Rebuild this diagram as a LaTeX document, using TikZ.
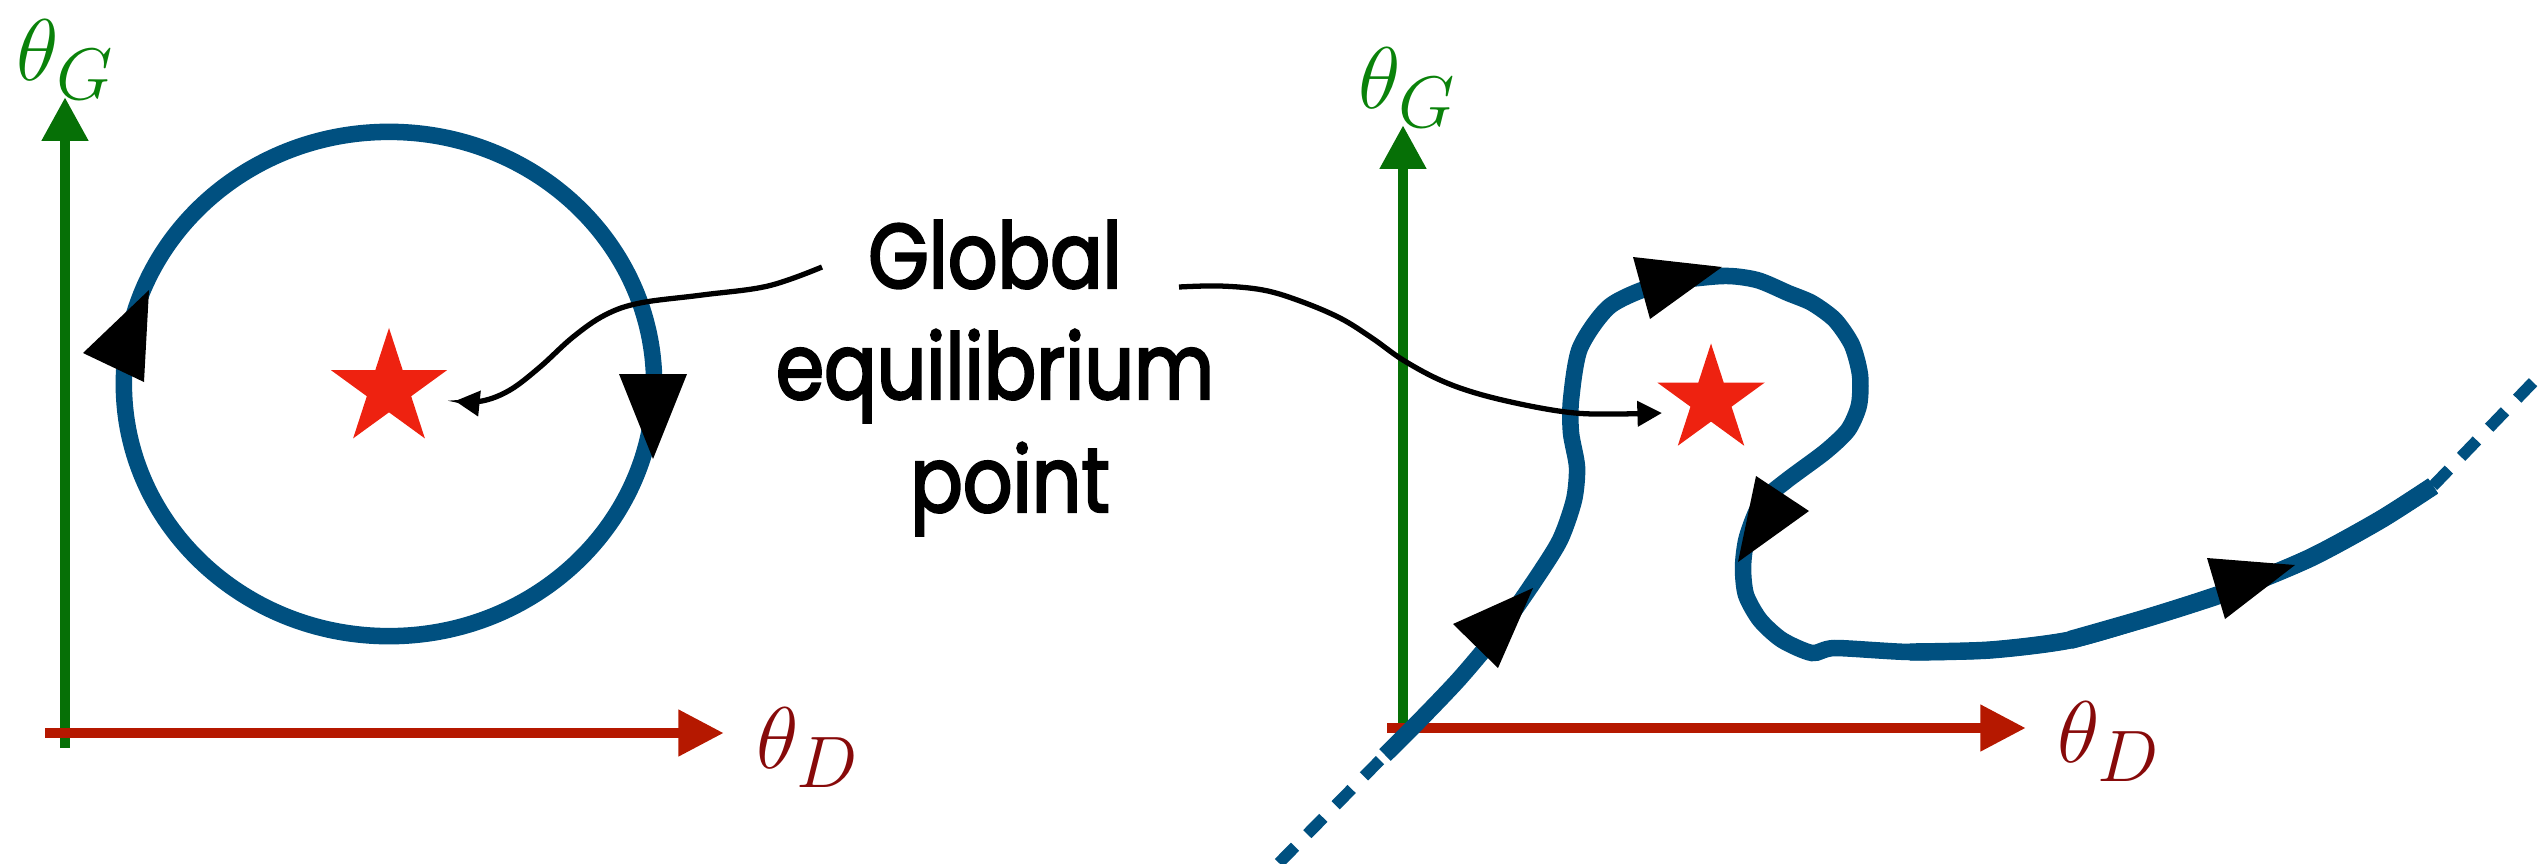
\documentclass[tikz,border=0pt]{standalone}
\usepackage{fontspec}
\usetikzlibrary{arrows.meta,shapes.geometric}
\newfontfamily\glfont{Poppins}[FakeBold=2.5,FakeStretch=0.85]
\definecolor{traj}{RGB}{0,80,128}
\definecolor{axg}{RGB}{6,112,6}
\definecolor{axr}{RGB}{181,24,0}
\definecolor{labg}{RGB}{10,130,10}
\definecolor{labr}{RGB}{135,10,10}
\definecolor{starred}{RGB}{238,34,16}
\begin{document}
\begin{tikzpicture}[x=0.01cm,y=-0.01cm,
  axisg/.style={draw=axg,line width=3.1pt,-{Triangle[length=12.5pt,width=12.5pt]}},
  axisr/.style={draw=axr,line width=3.1pt,-{Triangle[length=13pt,width=12.5pt]}},
  trajline/.style={draw=traj,line width=4.7pt},
  trajdash/.style={draw=traj,line width=3.3pt,dash pattern=on 6.5pt off 5pt},
  headtri/.style={fill=black},
  eqstar/.style={star,star points=5,star point ratio=2.618,inner sep=0pt,fill=starred,draw=none},
  callout/.style={draw=black,line width=1.5pt,-{Triangle[length=7pt,width=7pt]}},
  axlabg/.style={inner sep=0pt,anchor=base west,text=labg,font=\fontsize{27.5pt}{33pt}\selectfont},
  axlabr/.style={inner sep=0pt,anchor=base west,text=labr,font=\fontsize{27.5pt}{33pt}\selectfont},
  gltext/.style={inner sep=0pt,anchor=base,font=\glfont\fontsize{26pt}{31pt}\selectfont}
]
\path[use as bounding box] (0,0) rectangle (2539,863);

% ---------- left panel ----------
\coordinate (lO1) at (65,748);
\coordinate (lY) at (65,97);
\coordinate (lO2) at (45,733);
\coordinate (lX) at (724,733);
\draw[axisg] (lO1) -- (lY);
\draw[axisr] (lO2) -- (lX);
\node[axlabg] (lthG) at (16,80) {$\theta_G$};
\node[axlabr] (lthD) at (756,768) {$\theta_D$};

\draw[trajline] (389,384) ellipse [x radius=2.65cm, y radius=2.52cm];
\fill[headtri] (149,290) -- (144,382) -- (83,353) -- cycle;
\fill[headtri] (619,374) -- (687,374) -- (653,459) -- cycle;
\node[eqstar,minimum size=1.22cm] (lstar) at (389,389) {};

% ---------- right panel ----------
\coordinate (rO1) at (1403,735);
\coordinate (rY) at (1403,125);
\coordinate (rO2) at (1387,728);
\coordinate (rX) at (2026,728);
\draw[axisg] (rO1) -- (rY);
\draw[axisr] (rO2) -- (rX);
\node[axlabg] (rthG) at (1358,108) {$\theta_G$};
\node[axlabr] (rthD) at (2057,762) {$\theta_D$};

\coordinate (tA) at (1279,863);
\coordinate (tB) at (1385,755);
\coordinate (tC) at (2433,486);
\coordinate (tD) at (2539,376);
\draw[trajdash] (tA) -- (tB);
\draw[trajdash] (tC) -- (tD);
\draw[trajline, line cap=butt] plot[smooth,tension=0.45] coordinates {(tB) (1420,720) (1460,678) (1500,630) (1535,580) (1560,540) (1574,500) (1577,467) (1571,433) (1571,400) (1580,348) (1610,306) (1660,284) (1722,276) (1757,280) (1788,293) (1812,303) (1835,320) (1852,345) (1860,375) (1859,405) (1848,430) (1825,452) (1786,481) (1761,503) (1747,537) (1743,567) (1746,595) (1760,620) (1782,640) (1812,653) (1835,648) (1910,652) (1990,650) (2070,640) (2150,617) (2230,591) (2310,558) (2380,520) (tC)};
\draw[traj, line width=4.95pt, line cap=butt] plot[smooth,tension=0.45] coordinates {(1910,652) (1990,650) (2070,640) (2150,617) (2230,591) (2310,558) (2380,520) (tC)};
\draw[traj, line width=5.2pt, line cap=butt] plot[smooth,tension=0.45] coordinates {(2070,640) (2150,617) (2230,591) (2310,558) (2380,520) (tC)};
\fill[headtri] (1633,257) -- (1722,267) -- (1650,319) -- cycle;
\fill[headtri] (1756,476) -- (1809,511) -- (1738,562) -- cycle;
\fill[headtri] (1533,588) -- (1498,668) -- (1453,624) -- cycle;
\fill[headtri] (2207,558) -- (2295,565) -- (2225,619) -- cycle;
\node[eqstar,minimum size=1.13cm] (rstar) at (1711,400) {};

% ---------- label and callouts ----------
\node[gltext] (gl1) at (995,288) {Global};
\node[gltext] (gl2) at (995,399) {equilibrium};
\node[gltext] (gl3) at (1010,512) {point};

\coordinate (lcA) at (822,267);
\coordinate (lcB) at (455,401);
\coordinate (rcA) at (1179,287);
\coordinate (rcB) at (1662,413);
\draw[callout] plot[smooth,tension=0.6] coordinates {(lcA) (768,286) (702,295) (640,303) (605,315) (573,337) (540,367) (510,390) (482,401) (lcB)};
\draw[callout] plot[smooth,tension=0.6] coordinates {(rcA) (1220,286) (1263,290) (1300,301) (1340,318) (1372,338) (1403,360) (1440,380) (1479,394) (1530,406) (1575,413) (1615,414) (rcB)};
\end{tikzpicture}
\end{document}
